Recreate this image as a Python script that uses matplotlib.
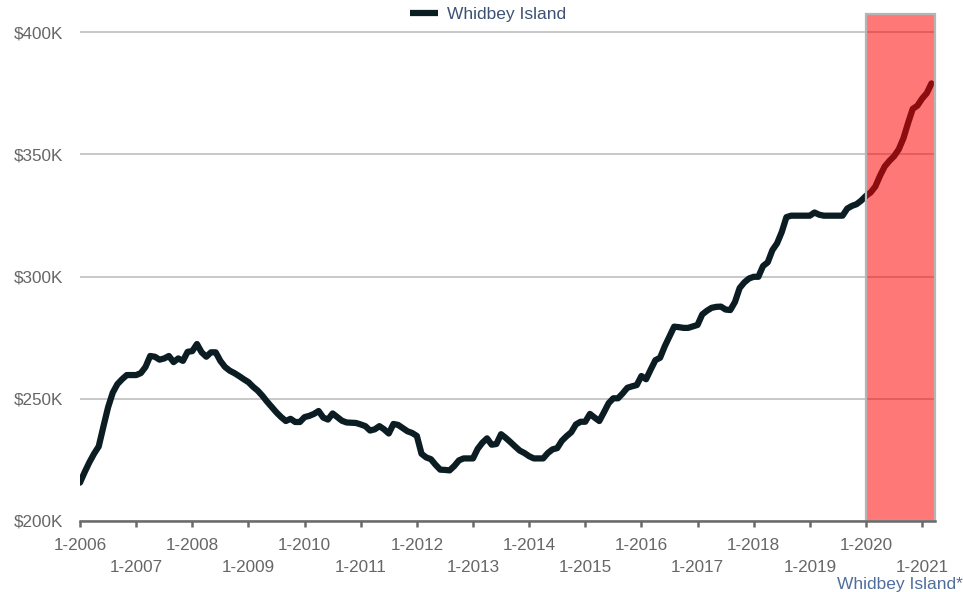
import matplotlib
matplotlib.use("Agg")
import matplotlib.pyplot as plt
import numpy as np

plt.rcParams['font.family'] = ['Liberation Sans', 'DejaVu Sans']

# Monthly median price (thousands of $), Jan 2006 .. Mar 2021
start_year = 2006
values_k = [
    215.7, 220.0, 224.0, 227.5, 230.5, 238.6, 246.5, 252.5, 256.0, 258.0, 259.7, 259.7,  # 2006
    259.7, 260.5, 263.0, 267.5, 267.2, 266.0, 266.5, 267.5, 265.0, 266.5, 265.5, 269.2,  # 2007
    269.5, 272.4, 269.0, 267.2, 269.0, 269.0, 265.5, 263.0, 261.5, 260.5, 259.3, 258.0,  # 2008
    256.8, 254.9, 253.3, 251.2, 248.8, 246.6, 244.4, 242.5, 240.9, 241.8, 240.5, 240.5,  # 2009
    242.5, 243.0, 243.8, 245.0, 242.3, 241.5, 244.0, 242.5, 241.0, 240.3, 240.2, 240.1,  # 2010
    239.5, 238.8, 237.0, 237.5, 238.8, 237.5, 235.8, 239.7, 239.3, 238.0, 236.7, 236.0,  # 2011
    234.8, 227.5, 226.0, 225.3, 223.0, 221.0, 220.9, 220.7, 222.5, 224.8, 225.6, 225.6,  # 2012
    225.6, 229.5, 232.0, 233.8, 231.2, 231.5, 235.5, 234.0, 232.3, 230.5, 228.8, 227.8,  # 2013
    226.5, 225.6, 225.6, 225.6, 227.8, 229.3, 229.8, 232.8, 234.7, 236.3, 239.5, 240.6,  # 2014
    240.6, 243.8, 242.3, 240.9, 244.5, 248.2, 250.2, 250.2, 252.2, 254.5, 255.1, 255.6,  # 2015
    259.3, 258.0, 262.0, 265.8, 266.8, 271.5, 275.5, 279.5, 279.3, 279.0, 279.0, 279.6,  # 2016
    280.2, 284.5, 286.0, 287.2, 287.6, 287.7, 286.5, 286.3, 289.6, 295.3, 297.6, 299.2,  # 2017
    299.9, 299.9, 304.3, 305.8, 310.8, 313.6, 318.2, 324.3, 324.9, 324.9, 324.9, 324.9,  # 2018
    324.9, 326.2, 325.3, 324.9, 324.9, 324.9, 324.9, 324.9, 327.8, 328.9, 329.6, 331.1,  # 2019
    333.0, 334.4, 336.8, 341.2, 345.0, 347.3, 349.2, 352.0, 356.5, 362.8, 368.6, 369.9,  # 2020
    372.8, 375.0, 379.0,                                                                 # 2021
]
series_name = "Whidbey Island"
tick_years = list(range(2006, 2022))
y_ticks_k = [200, 250, 300, 350, 400]
highlight_start = 2020

x = start_year + np.arange(len(values_k)) / 12.0

fig = plt.figure(figsize=(9.63, 5.92), dpi=100)
ax = fig.add_axes([80/963, 1 - 521/592, (935-80)/963, (521-14)/592])

ax.set_xlim(2006, 2006 + (935-80)/56.14)
ax.set_ylim(200, 407.4)

ax.plot(x, values_k, color='#0b1d23', lw=4.5, solid_capstyle='round',
        solid_joinstyle='round', zorder=3, label=series_name)

# highlighted region (translucent red over the line)
ax.axvspan(highlight_start, ax.get_xlim()[1], facecolor='#ff0000', alpha=0.53,
           edgecolor='none', zorder=4)
ax.axvspan(highlight_start, ax.get_xlim()[1], facecolor='none',
           edgecolor='#b5b5b5', lw=1.6, zorder=5, clip_on=False)

# grid
ax.set_yticks(y_ticks_k)
ax.set_yticklabels([r"\$%dK" % v for v in y_ticks_k])
ax.yaxis.grid(True, color='#c4c4c4', lw=1.3, zorder=1)
ax.set_axisbelow(True)

for s in ['top', 'right', 'left']:
    ax.spines[s].set_visible(False)
ax.spines['bottom'].set_color('#6a6a6a')
ax.spines['bottom'].set_linewidth(1.8)
ax.spines['bottom'].set_zorder(6)

ax.set_xticks(tick_years)
ax.set_xticklabels([("1-%d" % y) if (y % 2 == 0) else ("\n1-%d" % y) for y in tick_years])
ax.tick_params(axis='x', direction='out', length=4, width=1.8, color='#6a6a6a',
               labelsize=12.3, labelcolor='#666666', pad=8)
for lab in ax.get_xticklabels():
    lab.set_linespacing(1.6)
ax.tick_params(axis='y', length=0, labelsize=12.3, labelcolor='#666666', pad=12)

leg = fig.legend(handles=ax.get_lines(), loc='center', bbox_to_anchor=(488/963, 1 - 14/592),
                 frameon=False, fontsize=12.5, handlelength=1.6, handletextpad=0.5,
                 borderaxespad=0, borderpad=0)
for t in leg.get_texts():
    t.set_color('#3d5273')
for h in leg.get_lines():
    h.set_linewidth(4.5)
    h.set_solid_capstyle('butt')

fig.text(963/963, 1 - 584/592, series_name + "*", ha='right', va='center',
         fontsize=12.5, color='#4f6e9c')

fig.savefig("out.png", dpi=100)
